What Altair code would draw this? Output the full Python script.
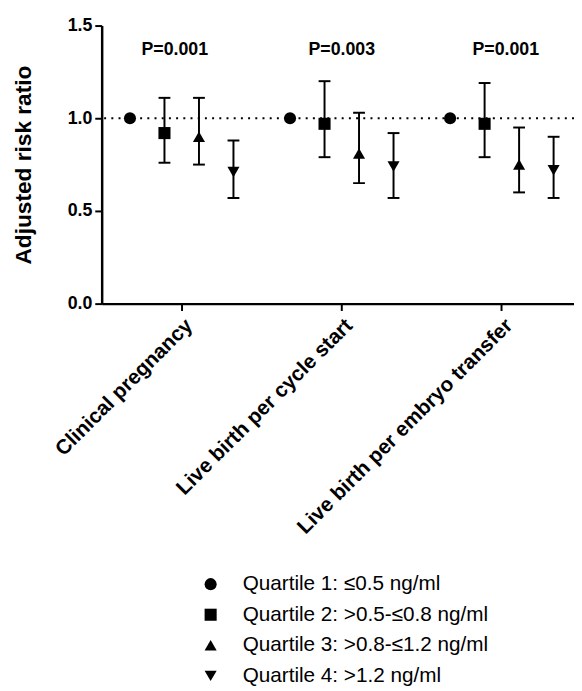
import altair as alt
import pandas as pd

categories = ["Clinical pregnancy", "Live birth per cycle start", "Live birth per embryo transfer"]
quartiles = ["Quartile 1: ≤0.5 ng/ml", "Quartile 2: >0.5-≤0.8 ng/ml",
             "Quartile 3: >0.8-≤1.2 ng/ml", "Quartile 4: >1.2 ng/ml"]
shapes = ["circle", "square", "triangle-up", "triangle-down"]
estimates = [[1.00, 0.92, 0.90, 0.71],
             [1.00, 0.97, 0.81, 0.74],
             [1.00, 0.97, 0.75, 0.72]]
lower = [[None, 0.76, 0.75, 0.57],
         [None, 0.79, 0.65, 0.57],
         [None, 0.79, 0.60, 0.57]]
upper = [[None, 1.11, 1.11, 0.88],
         [None, 1.20, 1.03, 0.92],
         [None, 1.19, 0.95, 0.90]]
p_values = ["P=0.001", "P=0.003", "P=0.001"]
p_label_y = 1.37
reference_y = [1.0]

FONT = "Liberation Sans"
P_DX = [-7, 0, 4]

rows = []
for i, c in enumerate(categories):
    for j, q in enumerate(quartiles):
        rows.append({"category": c, "quartile": q, "est": estimates[i][j],
                     "lo": lower[i][j], "hi": upper[i][j]})
df = pd.DataFrame(rows)
df_err = df.dropna(subset=["lo", "hi"])
df_ref = pd.DataFrame({"y": reference_y})

x_enc = alt.X("category:N", sort=categories,
              scale=alt.Scale(range=[0, 487], paddingInner=0, paddingOuter=0),
              axis=alt.Axis(title=None, labelAngle=-45, labelFont=FONT, labelFontWeight="bold",
                            labelFontSize=21, labelColor="black", tickSize=7, tickWidth=2,
                            tickColor="black", domainColor="black", domainWidth=2.5,
                            labelPadding=4, labelLimit=400))
xoff = alt.XOffset("quartile:N", sort=quartiles,
                   scale=alt.Scale(paddingInner=0, paddingOuter=0.32))
y_scale = alt.Scale(domain=[0, 1.5], nice=False, zero=True)
y_axis = alt.Axis(title="Adjusted risk ratio", values=[0, 0.5, 1.0, 1.5], format=".1f",
                  labelFont=FONT, labelFontWeight="bold", labelFontSize=18, labelColor="black",
                  tickSize=7, tickWidth=2, tickColor="black", domainColor="black",
                  domainWidth=2.5, grid=False, titleFont=FONT, titleFontSize=23,
                  titleFontWeight="bold", titleColor="black", titlePadding=32, labelPadding=3)

ref = alt.Chart(df_ref).mark_rule(color="black", strokeWidth=2.2, strokeDash=[2, 5.3]).encode(
    y=alt.Y("y:Q", scale=y_scale, axis=y_axis))

bars = alt.Chart(df_err).mark_rule(color="black", strokeWidth=2).encode(
    x=x_enc, xOffset=xoff, y=alt.Y("lo:Q", scale=y_scale), y2="hi:Q")

cap_lo = alt.Chart(df_err).mark_tick(color="black", size=12, thickness=2, opacity=1).encode(
    x=x_enc, xOffset=xoff, y=alt.Y("lo:Q", scale=y_scale))
cap_hi = alt.Chart(df_err).mark_tick(color="black", size=12, thickness=2, opacity=1).encode(
    x=x_enc, xOffset=xoff, y=alt.Y("hi:Q", scale=y_scale))

pts = alt.Chart(df).mark_point(filled=True, opacity=1, size=150, color="black").encode(
    x=x_enc, xOffset=xoff, y=alt.Y("est:Q", scale=y_scale),
    shape=alt.Shape("quartile:N", sort=quartiles,
                    scale=alt.Scale(domain=quartiles, range=shapes),
                    legend=alt.Legend(title=None, orient="none", legendX=100, legendY=556,
                                      direction="vertical", symbolFillColor="black",
                                      symbolStrokeColor="black", symbolSize=150,
                                      labelFont=FONT, labelFontSize=21, labelColor="black",
                                      labelOffset=22, rowPadding=9, padding=0,
                                      labelLimit=400)))

texts = []
for i, c in enumerate(categories):
    d = pd.DataFrame({"category": [c], "p": [p_values[i]], "y": [p_label_y]})
    texts.append(alt.Chart(d).mark_text(font=FONT, fontWeight="bold", fontSize=18,
                                        color="black", baseline="middle", align="center",
                                        dx=P_DX[i]).encode(
        x=x_enc, y=alt.Y("y:Q", scale=y_scale), text="p:N"))

chart = alt.layer(ref, bars, cap_lo, cap_hi, pts, *texts).properties(
    width=479, height=282,
    padding={"left": 95, "top": 13, "right": 0, "bottom": 385},
    autosize=alt.AutoSizeParams(type="none"),
).configure_view(stroke=None)

chart.save("out.html", embed_options={"renderer": "svg", "actions": False})
